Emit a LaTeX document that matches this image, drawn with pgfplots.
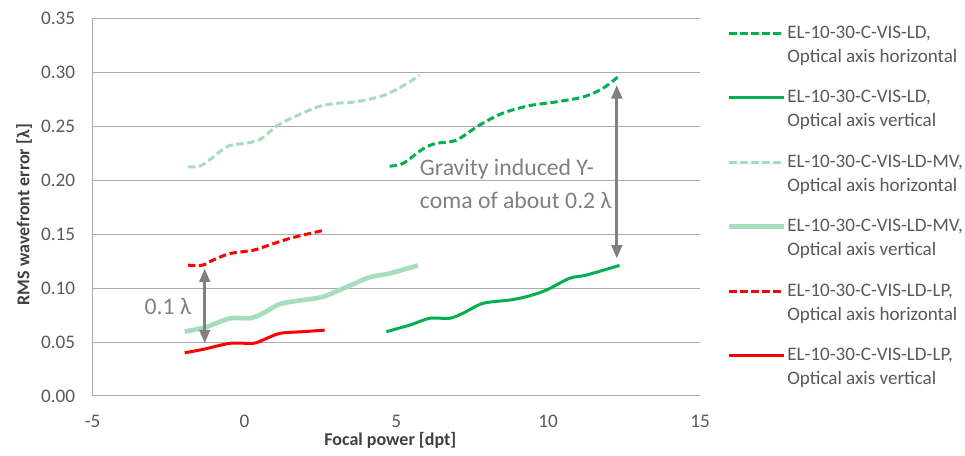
\documentclass[border=0pt]{standalone}
\usepackage{fontspec}
\setmainfont{Carlito}
\usepackage{pgfplots}
\pgfplotsset{compat=1.18}
\usetikzlibrary{arrows.meta}
\definecolor{dgreen}{RGB}{0,176,80}
\definecolor{lgreen}{RGB}{165,222,188}
\definecolor{lpred}{RGB}{255,0,0}
\definecolor{gridc}{RGB}{170,170,170}
\definecolor{tickc}{RGB}{89,89,89}
\definecolor{labc}{RGB}{64,64,64}
\definecolor{annc}{RGB}{128,128,128}
\begin{document}
\begin{tikzpicture}
\begin{axis}[
  scale only axis, width=455.5pt, height=283.3pt,
  xmin=-5, xmax=15, ymin=0, ymax=0.35,
  xtick={-5,0,5,10,15},
  ytick={0,0.05,0.1,0.15,0.2,0.25,0.3,0.35},
  axis x line*=bottom, axis y line*=left,
  axis line style={draw=gridc, line width=0.75pt, -},
  tick style={draw=none},
  ymajorgrids, grid style={draw=gridc, line width=0.75pt},
  /pgf/number format/assume math mode=true,
  ticklabel style={font=\fontsize{14.4}{17}\selectfont, text=tickc, inner sep=0pt},
  yticklabel style={/pgf/number format/fixed, /pgf/number format/fixed zerofill, /pgf/number format/precision=2, xshift=-13pt},
  xticklabel style={yshift=-14pt},
  xlabel={Focal power [dpt]},
  ylabel={RMS wavefront error [λ]},
  xlabel style={at={(axis description cs:0.49,-0.1165)}, anchor=center, font=\bfseries\fontsize{13.5}{16}\selectfont, text=labc},
  ylabel style={at={(axis description cs:-0.113,0.48)}, anchor=center, font=\bfseries\fontsize{13.5}{16}\selectfont, text=labc},
  legend cell align=left,
  legend style={at={(1.0445,0.98)}, anchor=north west, draw=none, fill=none, inner sep=0pt, outer sep=0pt, row sep=19.6pt, column sep=0.75pt,
    nodes={inner sep=0pt, align=left, text=tickc, font=\fontsize{14.3}{18}\selectfont}},
  legend image code/.code={\draw[#1] (0pt,9pt) -- (41pt,9pt);},
]
\addplot[dgreen, line width=2.25pt, dash pattern=on 5.5pt off 2.75pt, smooth] coordinates {
(4.78,0.2130) (5.22,0.2155) (5.88,0.2290) (6.30,0.2340) (6.97,0.2370) (7.74,0.2510) (8.50,0.2620) (9.38,0.2690) (10.26,0.2725) (11.14,0.2770) (11.80,0.2850) (12.35,0.2970)};
\addlegendentry{EL-10-30-C-VIS-LD,\\Optical axis horizontal}
\addplot[dgreen, line width=2.25pt, smooth] coordinates {
(4.67,0.0596) (5.44,0.0657) (6.10,0.0720) (6.75,0.0720) (7.19,0.0766) (7.85,0.0858) (8.73,0.0889) (9.28,0.0920) (9.93,0.0980) (10.70,0.1090) (11.25,0.1120) (12.35,0.1210)};
\addlegendentry{EL-10-30-C-VIS-LD,\\Optical axis vertical}
\addplot[lgreen, line width=2.25pt, dash pattern=on 5.5pt off 2.75pt, smooth] coordinates {
(-1.86,0.2123) (-1.47,0.2130) (-1.09,0.2201) (-0.54,0.2315) (0.12,0.2345) (0.56,0.2386) (1.10,0.2509) (1.76,0.2602) (2.42,0.2679) (2.97,0.2710) (3.63,0.2725) (4.51,0.2778) (5.16,0.2864) (5.77,0.2972)};
\addlegendentry{EL-10-30-C-VIS-LD-MV,\\Optical axis horizontal}
\addplot[lgreen, line width=3.5pt, smooth] coordinates {
(-1.97,0.0596) (-1.25,0.0640) (-0.48,0.0720) (0.17,0.0720) (0.61,0.0766) (1.16,0.0852) (1.93,0.0889) (2.59,0.0920) (3.36,0.1010) (4.12,0.1100) (4.78,0.1136) (5.71,0.1210)};
\addlegendentry{EL-10-30-C-VIS-LD-MV,\\Optical axis vertical}
\addplot[lpred, line width=2.25pt, dash pattern=on 5.5pt off 2.75pt, smooth] coordinates {
(-1.86,0.1213) (-1.41,0.1210) (-1.03,0.1260) (-0.48,0.1320) (0.28,0.1350) (0.83,0.1400) (1.49,0.1460) (2.15,0.1506) (2.64,0.1537)};
\addlegendentry{EL-10-30-C-VIS-LD-LP,\\Optical axis horizontal}
\addplot[lpred, line width=2.25pt, smooth] coordinates {
(-1.97,0.0401) (-1.36,0.0432) (-0.48,0.0488) (0.28,0.0488) (0.61,0.0519) (1.16,0.0580) (1.93,0.0596) (2.64,0.0610)};
\addlegendentry{EL-10-30-C-VIS-LD-LP,\\Optical axis vertical}
\draw[annc, line width=2pt, {Triangle[length=10pt,width=8pt]}-{Triangle[length=10pt,width=8pt]}] (axis cs:12.26,0.288) -- (axis cs:12.26,0.1275);
\draw[annc, line width=2pt, {Triangle[length=10pt,width=8pt]}-{Triangle[length=10pt,width=8pt]}] (axis cs:-1.31,0.118) -- (axis cs:-1.31,0.049);
\node[annc, anchor=west, align=left, font=\fontsize{17.8}{24.75}\selectfont, inner sep=0pt] at (axis cs:5.77,0.197) {Gravity induced Y-\\coma of about 0.2 λ};
\node[annc, anchor=east, font=\fontsize{17.8}{20}\selectfont, inner sep=0pt] at (axis cs:-1.75,0.083) {0.1 λ};
\end{axis}
\pgfresetboundingbox
\path[use as bounding box] (-69.5pt,-45pt) rectangle (654.25pt,297pt);
\end{tikzpicture}
\end{document}
